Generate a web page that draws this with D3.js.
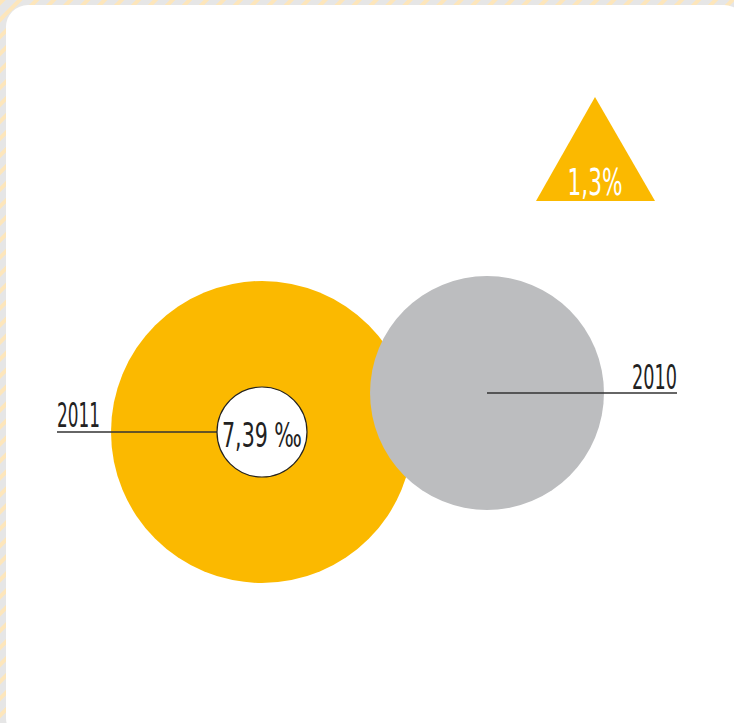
<!DOCTYPE html>
<html>
<head>
<meta charset="utf-8">
<script src="https://cdn.jsdelivr.net/npm/d3@7"></script>
<style>
  html, body { margin: 0; padding: 0; background: #e6e6e6; }
  svg { display: block; }
  .lbl { font-family: "DejaVu Sans", sans-serif; font-weight: 400; }
</style>
</head>
<body>
<div id="chart"></div>
<script>
"use strict";

// years shown as circles, newest first
const years      = ["2011", "2010"];
// relative size of each year's circle (by area)
const yearValues = [1.0, 0.6];
const yearColors = ["#fbb900", "#bcbdbf"];
// rate shown in the middle of the 2011 circle
const rateLabel  = "7,39 \u2030";
// change between the years, shown in the triangle
const changeLabel = "1,3%";

const W = 734, H = 723;

const svg = d3.select("#chart").append("svg")
  .attr("width", W).attr("height", H);

/* ── background: grey with pale diagonal stripes ── */
const defs = svg.append("defs");
const pat = defs.append("pattern")
  .attr("id", "stripes")
  .attr("patternUnits", "userSpaceOnUse")
  .attr("width", 12).attr("height", 12)
  .attr("patternTransform", "rotate(45)");
pat.append("rect").attr("width", 12).attr("height", 12).attr("fill", "#e6e6e6");
pat.append("rect").attr("width", 4).attr("height", 12).attr("fill", "#fde6bb");

svg.append("rect").attr("width", W).attr("height", H).attr("fill", "url(#stripes)");

svg.append("rect")
  .attr("x", 6).attr("y", 5)
  .attr("width", 740).attr("height", 735)
  .attr("rx", 22).attr("fill", "#fff");

/* ── circles ── */
const r = d3.scaleSqrt().domain([0, 1]).range([0, 151]);
const x = d3.scalePoint().domain(years).range([262, 487]);
const y = d3.scalePoint().domain(years).range([432, 393]);

const nodes = years.map(function (yr, i) {
  return { year: yr, value: yearValues[i], color: yearColors[i] };
});

svg.append("g").selectAll("circle")
  .data(nodes)
  .join("circle")
  .attr("cx", function (d) { return x(d.year); })
  .attr("cy", function (d) { return y(d.year); })
  .attr("r",  function (d) { return r(d.value); })
  .attr("fill", function (d) { return d.color; });

/* ── leader lines and year labels ── */
const first = nodes[0], second = nodes[1];
const innerR = 45;

svg.append("line")
  .attr("x1", 57).attr("x2", x(first.year) - innerR)
  .attr("y1", y(first.year)).attr("y2", y(first.year))
  .attr("stroke", "#333").attr("stroke-width", 1.5);

svg.append("line")
  .attr("x1", x(second.year)).attr("x2", 677)
  .attr("y1", y(second.year)).attr("y2", y(second.year))
  .attr("stroke", "#333").attr("stroke-width", 1.5);

/* Condensed look: draw the text, measure it, squeeze it to the wanted width. */
function condensedText(txt, px, py, anchor, size, fill, width) {
  const t = svg.append("text")
    .attr("class", "lbl")
    .attr("text-anchor", anchor)
    .attr("font-size", size)
    .attr("fill", fill)
    .text(txt);
  const sx = width / t.node().getComputedTextLength();
  t.attr("transform", "translate(" + px + "," + py + ") scale(" + sx + ",1)");
  return t;
}

condensedText(first.year, 57, y(first.year) - 5, "start", 33, "#222", 43);
condensedText(second.year, 677, y(second.year) - 4, "end", 33, "#222", 45);

/* ── rate bubble ── */
svg.append("circle")
  .attr("cx", x(first.year)).attr("cy", y(first.year))
  .attr("r", innerR)
  .attr("fill", "#fff").attr("stroke", "#222").attr("stroke-width", 1.2);

condensedText(rateLabel, x(first.year), y(first.year) + 15, "middle", 34, "#222", 80);

/* ── change triangle ── */
const tri = d3.line();
svg.append("path")
  .attr("d", tri([[595, 97], [655, 201], [536, 201]]) + "Z")
  .attr("fill", "#fbb900");

condensedText(changeLabel, 595, 195, "middle", 37, "#fff", 55);
</script>
</body>
</html>
